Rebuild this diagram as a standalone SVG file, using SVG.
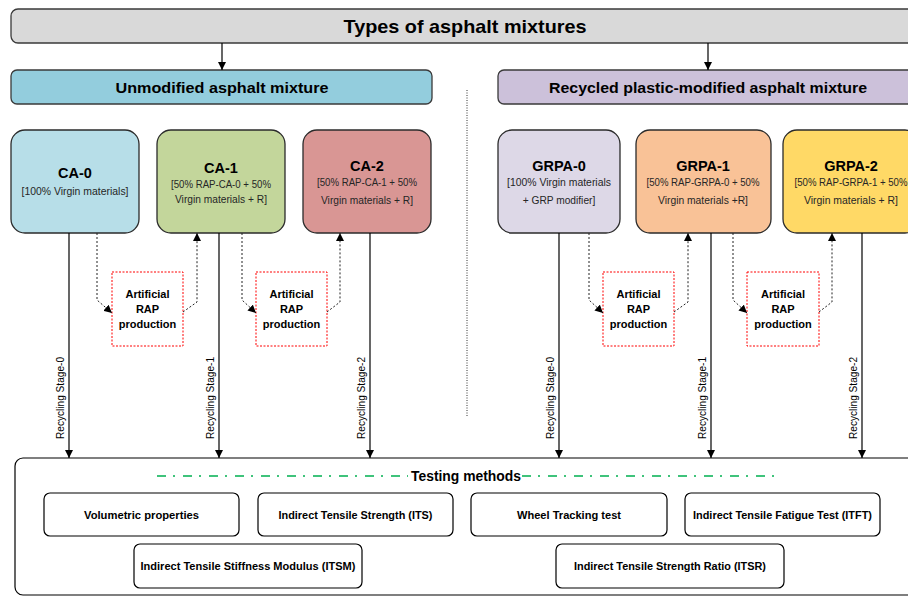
<svg xmlns="http://www.w3.org/2000/svg" width="908" height="596" viewBox="0 0 908 596">
<defs>
<marker id="ah" viewBox="0 0 10 10" refX="10" refY="5" markerWidth="8" markerHeight="8" markerUnits="userSpaceOnUse" orient="auto"><path d="M0,0 L10,5 L0,10 z" fill="#000"/></marker>
<style>
text{font-family:"Liberation Sans",Arial,sans-serif;fill:#000;}
.hdr{stroke:#3a3a3a;stroke-width:1.3;}
.mix{stroke:#2b2b2b;stroke-width:1.3;}
.t1{font-size:18.5px;font-weight:bold;text-anchor:middle;}
.t2{font-size:15.5px;font-weight:bold;text-anchor:middle;}
.nt{font-size:14.5px;font-weight:bold;text-anchor:middle;}
.ns{font-size:10.2px;text-anchor:middle;fill:#262626;}
.rap{fill:#fff;stroke:#ff0000;stroke-width:1;stroke-dasharray:2 1.5;}
.rt{font-size:11px;font-weight:bold;text-anchor:middle;}
.sol{stroke:#000;stroke-width:1.2;fill:none;marker-end:url(#ah);}
.dash{stroke:#222;stroke-width:1;fill:none;stroke-dasharray:2 2;marker-end:url(#ah);}
.rs{font-size:10.8px;text-anchor:middle;}
.tm{fill:#fff;stroke:#000;stroke-width:1.2;}
.tt{font-size:11.3px;font-weight:bold;text-anchor:middle;}
.gl{stroke:#00b050;stroke-width:1.4;stroke-dasharray:9 7 2 8;}
</style>
</defs>
<rect width="908" height="596" fill="#fff"/>

<g id="divider"><line x1="467" y1="90" x2="467" y2="417" stroke="#333" stroke-width="1" stroke-dasharray="1 1.5"/></g>

<g id="top"><rect class="hdr" x="11" y="9" width="910" height="34" rx="7" fill="#d9d9d9"/><text class="t1" x="465" y="33" textLength="243" lengthAdjust="spacingAndGlyphs">Types of asphalt mixtures</text></g>

<g id="unmod"><rect class="hdr" x="11" y="70" width="421" height="34" rx="6" fill="#93cddd"/><text class="t2" x="222" y="93" textLength="213" lengthAdjust="spacingAndGlyphs">Unmodified asphalt mixture</text></g>

<g id="recyc"><rect class="hdr" x="498" y="70" width="423" height="34" rx="6" fill="#ccc1da"/><text class="t2" x="708" y="93" textLength="318" lengthAdjust="spacingAndGlyphs">Recycled plastic-modified asphalt mixture</text></g>

<g id="CA-0"><rect class="mix" x="11" y="130" width="128" height="103" rx="14" fill="#b7dee8"/><text class="nt" x="75" y="178">CA-0</text><text class="ns" x="75" y="195" textLength="107" lengthAdjust="spacingAndGlyphs">[100% Virgin materials]</text></g>

<g id="CA-1"><rect class="mix" x="157" y="130" width="128" height="103" rx="14" fill="#c3d69b"/><text class="nt" x="221" y="173">CA-1</text><text class="ns" x="221" y="188" textLength="100" lengthAdjust="spacingAndGlyphs">[50% RAP-CA-0 + 50%</text><text class="ns" x="221" y="203" textLength="92" lengthAdjust="spacingAndGlyphs">Virgin materials + R]</text></g>

<g id="CA-2"><rect class="mix" x="303" y="130" width="128" height="103" rx="14" fill="#d99694"/><text class="nt" x="367" y="171">CA-2</text><text class="ns" x="367" y="186" textLength="100" lengthAdjust="spacingAndGlyphs">[50% RAP-CA-1 + 50%</text><text class="ns" x="367" y="204" textLength="92" lengthAdjust="spacingAndGlyphs">Virgin materials + R]</text></g>

<g id="GRPA-0"><rect class="mix" x="498" y="130" width="122" height="103" rx="14" fill="#ddd8e7"/><text class="nt" x="559" y="171">GRPA-0</text><text class="ns" x="559" y="186" textLength="104" lengthAdjust="spacingAndGlyphs">[100% Virgin materials</text><text class="ns" x="559" y="204">+ GRP modifier]</text></g>

<g id="GRPA-1"><rect class="mix" x="636" y="130" width="135" height="103" rx="14" fill="#f9c297"/><text class="nt" x="703" y="171">GRPA-1</text><text class="ns" x="703" y="186" textLength="113" lengthAdjust="spacingAndGlyphs">[50% RAP-GRPA-0 + 50%</text><text class="ns" x="703" y="204" textLength="90" lengthAdjust="spacingAndGlyphs">Virgin materials +R]</text></g>

<g id="GRPA-2"><rect class="mix" x="783" y="130" width="136" height="103" rx="14" fill="#ffd966"/><text class="nt" x="851" y="171">GRPA-2</text><text class="ns" x="851" y="186" textLength="113" lengthAdjust="spacingAndGlyphs">[50% RAP-GRPA-1 + 50%</text><text class="ns" x="851" y="204" textLength="94" lengthAdjust="spacingAndGlyphs">Virgin materials + R]</text></g>

<g id="rap1"><rect class="rap" x="112" y="272" width="71" height="74"/><text class="rt" x="147.5" y="298">Artificial</text><text class="rt" x="147.5" y="313">RAP</text><text class="rt" x="147.5" y="328">production</text></g>
<g id="rap2"><rect class="rap" x="256" y="272" width="71" height="74"/><text class="rt" x="291.5" y="298">Artificial</text><text class="rt" x="291.5" y="313">RAP</text><text class="rt" x="291.5" y="328">production</text></g>
<g id="rap3"><rect class="rap" x="603" y="272" width="71" height="74"/><text class="rt" x="638.5" y="298">Artificial</text><text class="rt" x="638.5" y="313">RAP</text><text class="rt" x="638.5" y="328">production</text></g>
<g id="rap4"><rect class="rap" x="747" y="272" width="72" height="74"/><text class="rt" x="783" y="298">Artificial</text><text class="rt" x="783" y="313">RAP</text><text class="rt" x="783" y="328">production</text></g>

<g id="testing"><rect x="15" y="458" width="906" height="137" rx="8" fill="#fff" stroke="#000" stroke-width="1.2"/>
<line class="gl" x1="157" y1="476" x2="408" y2="476"/>
<line class="gl" x1="522" y1="476" x2="774" y2="476"/>
<text x="466" y="481" font-size="15" font-weight="bold" text-anchor="middle" textLength="110" lengthAdjust="spacingAndGlyphs">Testing methods</text></g>

<g id="vol"><rect class="tm" x="44" y="493" width="195" height="43" rx="6"/><text class="tt" x="141.5" y="519" textLength="115" lengthAdjust="spacingAndGlyphs">Volumetric properties</text></g>
<g id="its"><rect class="tm" x="258" y="493" width="195" height="43" rx="6"/><text class="tt" x="355.5" y="519" textLength="154" lengthAdjust="spacingAndGlyphs">Indirect Tensile Strength (ITS)</text></g>
<g id="wtt"><rect class="tm" x="471" y="493" width="196" height="43" rx="6"/><text class="tt" x="569" y="519" textLength="104" lengthAdjust="spacingAndGlyphs">Wheel Tracking test</text></g>
<g id="itft"><rect class="tm" x="685" y="493" width="195" height="43" rx="6"/><text class="tt" x="782.5" y="519" textLength="179" lengthAdjust="spacingAndGlyphs">Indirect Tensile Fatigue Test (ITFT)</text></g>
<g id="itsm"><rect class="tm" x="134" y="544" width="228" height="44" rx="6"/><text class="tt" x="248" y="570" textLength="215" lengthAdjust="spacingAndGlyphs">Indirect Tensile Stiffness Modulus (ITSM)</text></g>
<g id="itsr"><rect class="tm" x="556" y="544" width="228" height="44" rx="6"/><text class="tt" x="670" y="570" textLength="192" lengthAdjust="spacingAndGlyphs">Indirect Tensile Strength Ratio (ITSR)</text></g>

<g id="connectors">
<path class="sol" d="M222,43 V70"/>
<path class="sol" d="M708,43 V70"/>
<path class="sol" d="M69,233 V458"/>
<path class="sol" d="M219,233 V458"/>
<path class="sol" d="M370,233 V458"/>
<path class="sol" d="M559,233 V458"/>
<path class="sol" d="M711,233 V458"/>
<path class="sol" d="M862,233 V458"/>
<path class="dash" d="M97,233 V300 L112,313"/>
<path class="dash" d="M183,312 L197,302 V233"/>
<path class="dash" d="M242,233 V300 L256,313"/>
<path class="dash" d="M327,312 L340,302 V233"/>
<path class="dash" d="M589,233 V300 L603,313"/>
<path class="dash" d="M674,312 L688,302 V233"/>
<path class="dash" d="M733,233 V300 L747,313"/>
<path class="dash" d="M819,312 L832,302 V233"/>
<text class="rs" transform="translate(64,398) rotate(-90)" textLength="82" lengthAdjust="spacingAndGlyphs">Recycling Stage-0</text>
<text class="rs" transform="translate(214,398) rotate(-90)" textLength="82" lengthAdjust="spacingAndGlyphs">Recycling Stage-1</text>
<text class="rs" transform="translate(365,398) rotate(-90)" textLength="82" lengthAdjust="spacingAndGlyphs">Recycling Stage-2</text>
<text class="rs" transform="translate(554,398) rotate(-90)" textLength="82" lengthAdjust="spacingAndGlyphs">Recycling Stage-0</text>
<text class="rs" transform="translate(706,398) rotate(-90)" textLength="82" lengthAdjust="spacingAndGlyphs">Recycling Stage-1</text>
<text class="rs" transform="translate(857,398) rotate(-90)" textLength="82" lengthAdjust="spacingAndGlyphs">Recycling Stage-2</text>
</g>
</svg>
